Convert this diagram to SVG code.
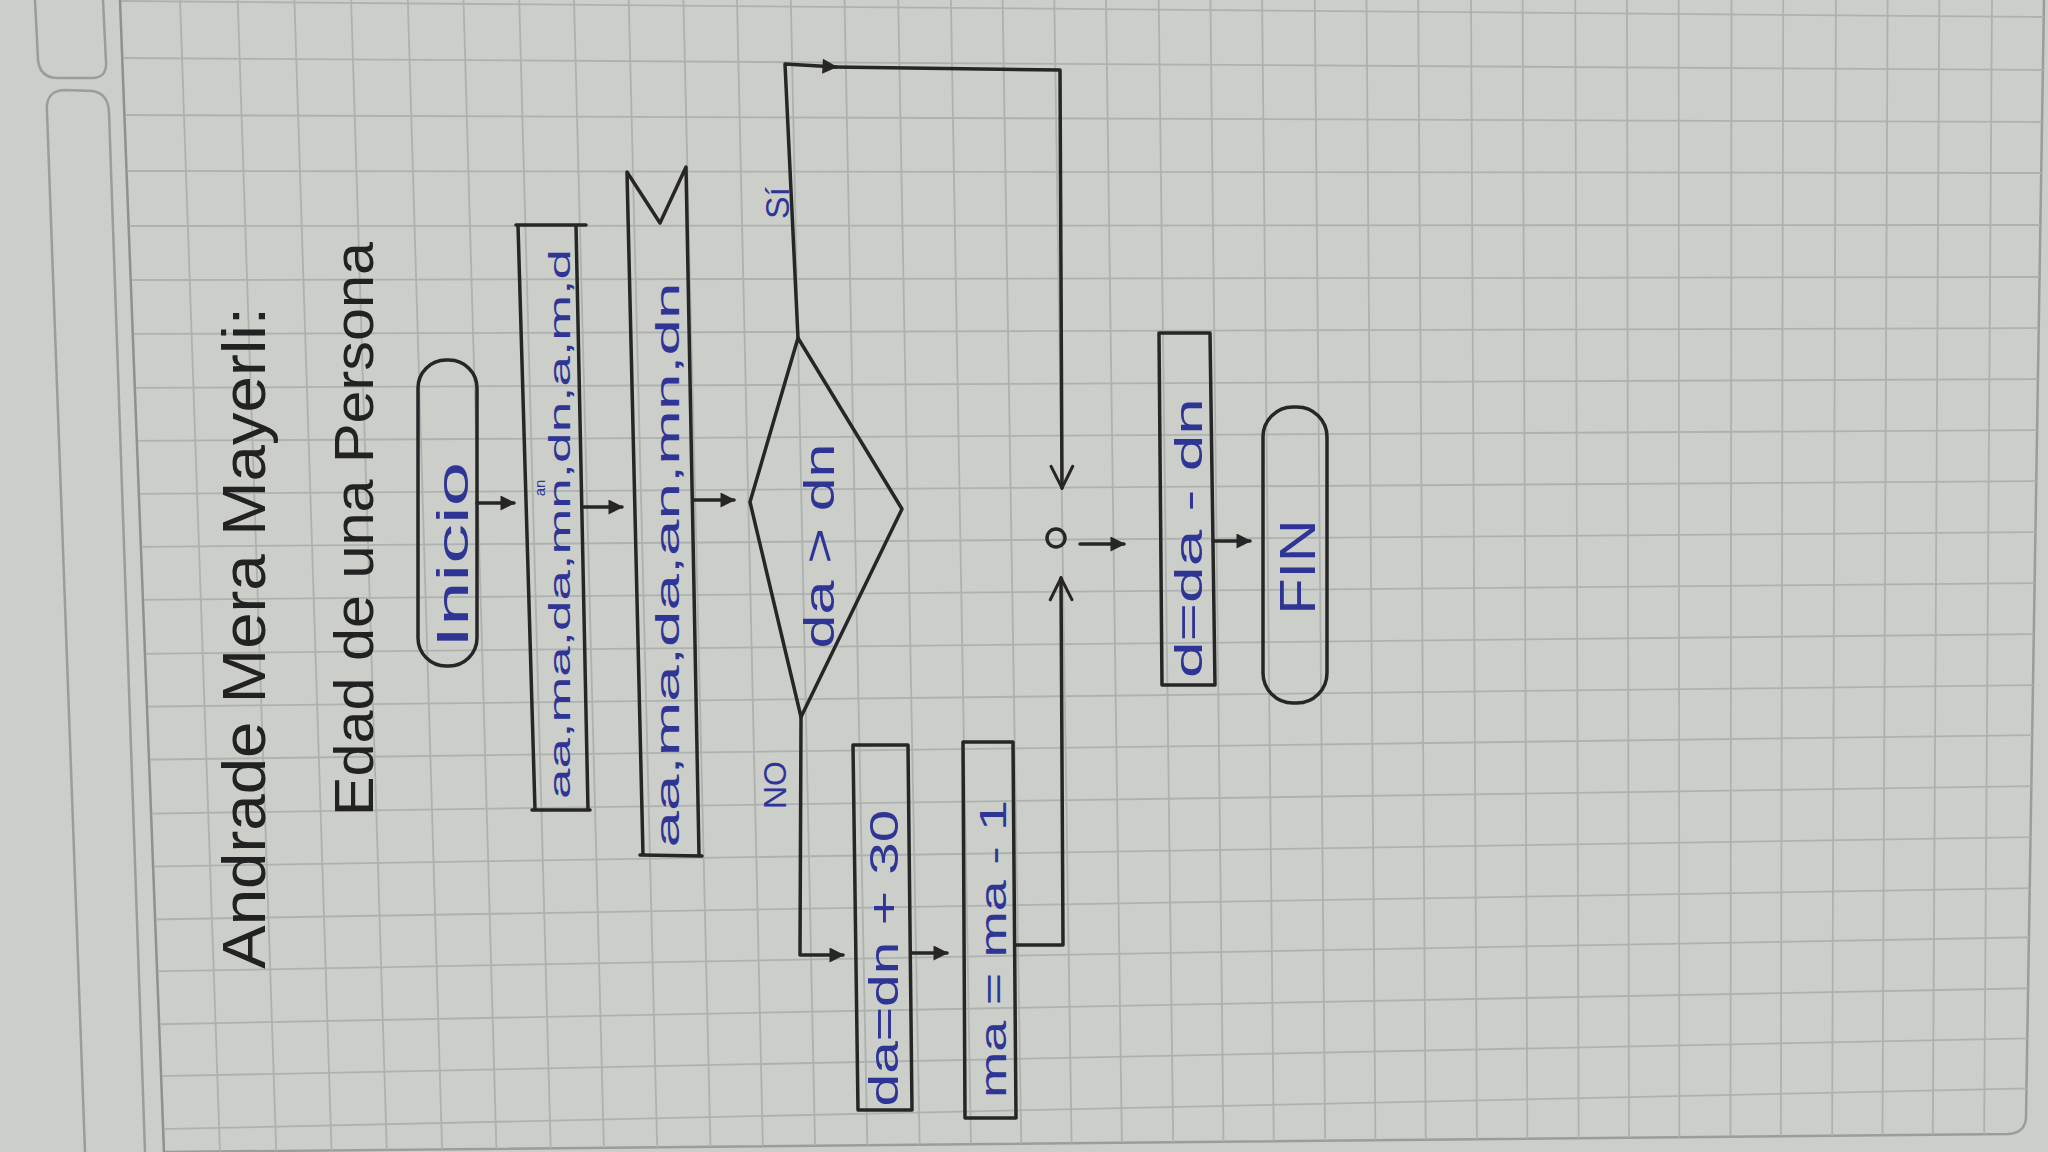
<svg xmlns="http://www.w3.org/2000/svg" width="2048" height="1152" viewBox="0 0 2048 1152">
<defs>
<style>
.grid line{stroke:#aeb2af;stroke-width:1.8}
.ink{fill:none;stroke:#262626;stroke-width:3.5;stroke-linejoin:round;stroke-linecap:round}
.blue{fill:#2e3594;font-family:"Liberation Sans","DejaVu Sans",sans-serif}
.black{fill:#222;font-family:"Liberation Sans","DejaVu Sans",sans-serif}
.edge{fill:none;stroke:#9a9e9b;stroke-width:2.5}
</style>
<marker id="ah" viewBox="0 0 10 10" refX="9" refY="5" markerWidth="17" markerHeight="15" markerUnits="userSpaceOnUse" orient="auto"><path d="M0,0 L10,5 L0,10 z" fill="#262626"/></marker>
<marker id="chev" viewBox="0 0 12 12" refX="11" refY="6" markerWidth="26" markerHeight="26" markerUnits="userSpaceOnUse" orient="auto"><path d="M1,1 L11,6 L1,11" fill="none" stroke="#262626" stroke-width="1.4" stroke-linecap="round"/></marker>
<clipPath id="page"><path d="M121,0 L2044,0 L2026,1118 Q2025,1133 2008,1134 L165,1152 Z"/></clipPath>
</defs>

<rect x="0" y="0" width="2048" height="1152" fill="#cbcec9"/>
<g id="left-pages">
<path class="edge" d="M35,0 L38,60 Q40,78 58,78 L92,78 Q107,78 106,62 L103,0"/>
<path class="edge" d="M85,1152 L47,112 Q45,90 66,90 L92,91 Q108,93 109,112 L145,1152"/>
<path d="M120,0 L164,1152" stroke="#8e928f" stroke-width="2.5"/>
<path class="edge" d="M2044,0 L2026,1118 Q2025,1133 2008,1134 L165,1152"/>
</g>

<g class="grid" clip-path="url(#page)">
<line x1="180" y1="0" x2="220" y2="1152"/><line x1="237.7" y1="0" x2="276.3" y2="1152"/><line x1="294.4" y1="0" x2="331.6" y2="1152"/><line x1="351.1" y1="0" x2="386.9" y2="1152"/><line x1="407.8" y1="0" x2="442.2" y2="1152"/><line x1="463.5" y1="0" x2="496.5" y2="1152"/><line x1="519.2" y1="0" x2="550.8" y2="1152"/><line x1="574" y1="0" x2="604" y2="1152"/><line x1="628.7" y1="0" x2="657.3" y2="1152"/><line x1="683.4" y1="0" x2="710.6" y2="1152"/><line x1="737" y1="0" x2="763" y2="1152"/><line x1="790.8" y1="0" x2="815.2" y2="1152"/><line x1="844.5" y1="0" x2="867.5" y2="1152"/><line x1="898.2" y1="0" x2="919.8" y2="1152"/><line x1="950.9" y1="0" x2="971.1" y2="1152"/><line x1="1002.6" y1="0" x2="1021.4" y2="1152"/><line x1="1054.3" y1="0" x2="1071.7" y2="1152"/><line x1="1106" y1="0" x2="1122" y2="1152"/><line x1="1158.7" y1="0" x2="1173.3" y2="1152"/><line x1="1210.4" y1="0" x2="1223.6" y2="1152"/><line x1="1262.1" y1="0" x2="1273.9" y2="1152"/><line x1="1314.8" y1="0" x2="1325.2" y2="1152"/><line x1="1366.5" y1="0" x2="1375.5" y2="1152"/><line x1="1418.2" y1="0" x2="1425.8" y2="1152"/><line x1="1471" y1="0" x2="1477" y2="1152"/><line x1="1522.6" y1="0" x2="1527.4" y2="1152"/><line x1="1575.3" y1="0" x2="1578.7" y2="1152"/><line x1="1627" y1="0" x2="1629" y2="1152"/><line x1="1678.7" y1="0" x2="1679.3" y2="1152"/><line x1="1731.5" y1="0" x2="1730.5" y2="1152"/><line x1="1783.2" y1="0" x2="1780.8" y2="1152"/><line x1="1835.9" y1="0" x2="1832.1" y2="1152"/><line x1="1887.6" y1="0" x2="1882.4" y2="1152"/><line x1="1939.3" y1="0" x2="1932.7" y2="1152"/><line x1="1992" y1="0" x2="1984" y2="1152"/>
<line x1="120" y1="1" x2="2045" y2="17"/><line x1="120" y1="58" x2="2045" y2="70"/><line x1="120" y1="115" x2="2045" y2="122"/><line x1="120" y1="171" x2="2045" y2="173"/><line x1="120" y1="226" x2="2045" y2="225"/><line x1="120" y1="280" x2="2045" y2="277"/><line x1="120" y1="334" x2="2045" y2="328"/><line x1="120" y1="388" x2="2045" y2="379"/><line x1="120" y1="441" x2="2045" y2="430"/><line x1="120" y1="494" x2="2045" y2="481"/><line x1="120" y1="547" x2="2045" y2="532"/><line x1="120" y1="600" x2="2045" y2="583"/><line x1="120" y1="654" x2="2045" y2="634"/><line x1="120" y1="707" x2="2045" y2="685"/><line x1="120" y1="760" x2="2045" y2="735"/><line x1="120" y1="814" x2="2045" y2="786"/><line x1="120" y1="867" x2="2045" y2="837"/><line x1="120" y1="920" x2="2045" y2="888"/><line x1="120" y1="972" x2="2045" y2="937"/><line x1="120" y1="1025" x2="2045" y2="988"/><line x1="120" y1="1077" x2="2045" y2="1038"/><line x1="120" y1="1130" x2="2045" y2="1088"/>
</g>

<g id="title">
<text class="black" transform="translate(243,638) rotate(-90)" text-anchor="middle" dominant-baseline="central" font-size="62" textLength="662" lengthAdjust="spacingAndGlyphs">Andrade Mera Mayerli:</text>
<text class="black" transform="translate(353,529) rotate(-90)" text-anchor="middle" dominant-baseline="central" font-size="56" textLength="574" lengthAdjust="spacingAndGlyphs">Edad de una Persona</text>
</g>

<g id="connectors" class="ink">
<path d="M477,503 L514,503" marker-end="url(#ah)"/>
<path d="M584,507 L622,507" marker-end="url(#ah)"/>
<path d="M694,500 L734,500" marker-end="url(#ah)"/>
<path d="M798,338 L785,64 L836,67" marker-end="url(#ah)"/>
<path d="M834,67 L1060,70 L1062,488" marker-end="url(#chev)"/>
<path d="M801,717 L800,955 L843,955" marker-end="url(#ah)"/>
<path d="M911,953 L947,953" marker-end="url(#ah)"/>
<path d="M1015,945 L1063,945 L1061,578" marker-end="url(#chev)"/>
<path d="M1080,544 L1124,544" marker-end="url(#ah)"/>
<path d="M1213,541 L1250,541" marker-end="url(#ah)"/>
</g>

<g id="labels">
<text class="blue" transform="translate(777,203) rotate(-90)" text-anchor="middle" dominant-baseline="central" font-size="34">Sí</text>
<text class="blue" transform="translate(775,785) rotate(-90)" text-anchor="middle" dominant-baseline="central" font-size="32">NO</text>
</g>

<g id="node-inicio">
<rect class="ink" x="418" y="360" width="59" height="306" rx="28"/>
<text class="blue" transform="translate(452,555) rotate(-90)" text-anchor="middle" dominant-baseline="central" font-size="44" textLength="186" lengthAdjust="spacingAndGlyphs">Inicio</text>
</g>

<g id="node-datos">
<path class="ink" d="M516,225 L586,225 M518,225 L535,810 M576,225 L588,810 M532,810 L590,810"/>
<text class="blue" transform="translate(559,524) rotate(-90)" text-anchor="middle" dominant-baseline="central" font-size="30" textLength="550" lengthAdjust="spacingAndGlyphs">aa,ma,da,mn,dn,a,m,d</text>
<text class="blue" transform="translate(539,488) rotate(-90)" text-anchor="middle" dominant-baseline="central" font-size="15">an</text>
</g>

<g id="node-pantalla">
<path class="ink" d="M643,855 L627,172 L660,223 L686,167 L699,855 M640,855 L702,856"/>
<text class="blue" transform="translate(667,565) rotate(-90)" text-anchor="middle" dominant-baseline="central" font-size="34" textLength="565" lengthAdjust="spacingAndGlyphs">aa,ma,da,an,mn,dn</text>
</g>

<g id="node-decision">
<path class="ink" d="M750,502 L798,338 L902,509 L801,717 Z"/>
<text class="blue" transform="translate(819,546) rotate(-90)" text-anchor="middle" dominant-baseline="central" font-size="42" textLength="205" lengthAdjust="spacingAndGlyphs">da &gt; dn</text>
</g>

<g id="node-da">
<path class="ink" d="M853,745 L908,745 L912,1110 L858,1110 Z"/>
<text class="blue" transform="translate(884,958) rotate(-90)" text-anchor="middle" dominant-baseline="central" font-size="40" textLength="297" lengthAdjust="spacingAndGlyphs">da=dn + 30</text>
</g>

<g id="node-ma">
<path class="ink" d="M963,742 L1013,742 L1016,1118 L965,1118 Z"/>
<text class="blue" transform="translate(993,949) rotate(-90)" text-anchor="middle" dominant-baseline="central" font-size="36" textLength="298" lengthAdjust="spacingAndGlyphs">ma = ma - 1</text>
</g>

<g id="node-conector">
<circle cx="1056" cy="538" r="9" fill="none" stroke="#262626" stroke-width="3.5"/>
</g>

<g id="node-d">
<path class="ink" d="M1159,333 L1210,333 L1215,685 L1162,685 Z"/>
<text class="blue" transform="translate(1189,538) rotate(-90)" text-anchor="middle" dominant-baseline="central" font-size="38" textLength="280" lengthAdjust="spacingAndGlyphs">d=da - dn</text>
</g>

<g id="node-fin">
<rect class="ink" x="1263" y="407" width="64" height="296" rx="30"/>
<text class="blue" transform="translate(1298,567) rotate(-90)" text-anchor="middle" dominant-baseline="central" font-size="50" textLength="95" lengthAdjust="spacingAndGlyphs">FIN</text>
</g>
</svg>
